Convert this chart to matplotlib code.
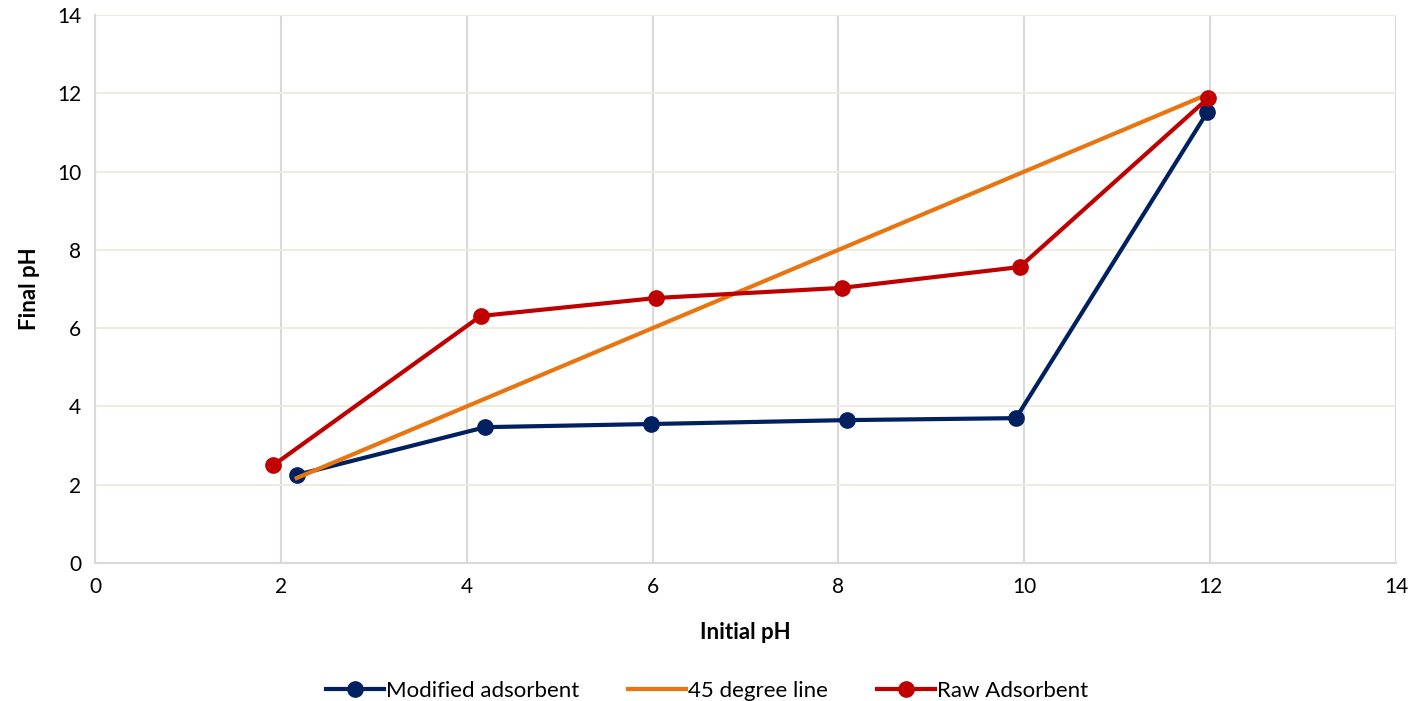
import matplotlib
matplotlib.use('Agg')
import matplotlib.pyplot as plt

plt.rcParams['font.family'] = ['Lato', 'DejaVu Sans']

# initial vs final pH for both adsorbents
modified_initial = [2.17, 4.20, 5.98, 8.09, 9.91, 11.97]
modified_final = [2.25, 3.47, 3.55, 3.65, 3.70, 11.52]

raw_initial = [1.92, 4.15, 6.04, 8.04, 9.95, 11.98]
raw_final = [2.50, 6.31, 6.77, 7.03, 7.56, 11.88]

# reference line where final pH equals initial pH
line_ph = [2.17, 11.97]

navy = '#002060'
orange = '#E97510'
red = '#C00000'

fig = plt.figure(figsize=(14.14, 7.01), dpi=100)
ax = fig.add_axes([0.0672, 0.1969, 0.9201, 0.7817])

ax.plot(modified_initial, modified_final, color=navy, lw=3, marker='o',
        ms=11, label='Modified adsorbent', zorder=3)
ax.plot(line_ph, line_ph, color=orange, lw=3, label='45 degree line',
        zorder=3)
ax.plot(raw_initial, raw_final, color=red, lw=3, marker='o', ms=11,
        label='Raw Adsorbent', zorder=4)

ax.set_xlim(0, 14)
ax.set_ylim(0, 14)
ax.set_xticks(range(0, 15, 2))
ax.set_yticks(range(0, 15, 2))

# vertical grid gray, horizontal grid beige
ax.xaxis.grid(True, color='#D9D9D9', lw=1.5)
ax.yaxis.grid(True, color='#EEEBE2', lw=1.5)
ax.set_axisbelow(True)

for side in ['top', 'right']:
    ax.spines[side].set_visible(False)
ax.spines['left'].set_color('#D9D9D9')
ax.spines['left'].set_linewidth(1.5)
ax.spines['bottom'].set_color('#D9D9D9')
ax.spines['bottom'].set_linewidth(1.5)
ax.tick_params(length=0, labelsize=15, pad=10, colors='#000000')

ax.set_xlabel('Initial pH', fontsize=16, fontweight='bold', labelpad=18)
ax.set_ylabel('Final pH', fontsize=16, fontweight='bold', labelpad=12)

fig.legend(loc='lower center', bbox_to_anchor=(0.5, -0.028), ncol=3,
           frameon=False, fontsize=16, handlelength=2.6, columnspacing=2.2,
           handletextpad=0.1)

fig.savefig('out.png', dpi=100)
